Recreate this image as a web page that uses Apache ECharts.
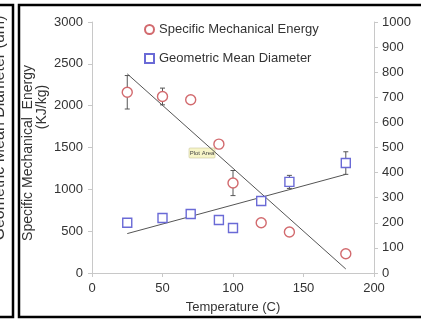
<!DOCTYPE html>
<html>
<head>
<meta charset="utf-8">
<script src="https://cdn.jsdelivr.net/npm/echarts@6/dist/echarts.min.js"></script>
<style>
  html, body { margin: 0; padding: 0; background: #fff; }
  #chart { width: 421px; height: 321px; }
</style>
</head>
<body>
<div id="chart"></div>
<script>
// Extrusion temperature (C) for each run
const temps = [25, 50, 70, 90, 100, 120, 140, 180];
// Specific mechanical energy (KJ/kg) and its error
const smeValues = [2160, 2110, 2070, 1540, 1075, 600, 490, 230];
const smeErrors = [200, 100, 0, 0, 150, 0, 0, 0];
// Geometric mean diameter (um) and its error
const gmdValues = [200, 219, 235, 211, 179, 287, 363, 438];
const gmdErrors = [0, 0, 0, 0, 0, 0, 26, 45];
// Linear trend lines, end points [temperature, value]
const smeTrend = [[25, 2380], [180, 48]];
const gmdTrend = [[25, 157], [180, 393]];
// Axis ranges [min, max, step]
const xRange = [0, 200, 50];
const smeRange = [0, 3000, 500];
const gmdRange = [0, 1000, 100];

const seriesNames = ['Specific Mechanical Energy', 'Geometric Mean Diameter'];
const FONT = '"Liberation Sans", Arial, Helvetica, sans-serif';
const RED = '#d26a6e';
const BLUE = '#6a6ad6';
const AXIS = '#c8c8c8';
const TEXT = '#333333';

const chart = echarts.init(document.getElementById('chart'), null, { renderer: 'canvas' });

function errorBars(values, errors) {
  return temps.map((t, i) => [t, values[i], errors[i]]).filter(d => d[2] > 0);
}

function renderError(params, api) {
  const x = api.value(0), y = api.value(1), e = api.value(2);
  const top = api.coord([x, y + e]);
  const bot = api.coord([x, y - e]);
  const w = 2.5;
  const style = { stroke: '#555', lineWidth: 1 };
  return {
    type: 'group',
    children: [
      { type: 'line', shape: { x1: top[0], y1: top[1], x2: bot[0], y2: bot[1] }, style },
      { type: 'line', shape: { x1: top[0] - w, y1: top[1], x2: top[0] + w, y2: top[1] }, style },
      { type: 'line', shape: { x1: bot[0] - w, y1: bot[1], x2: bot[0] + w, y2: bot[1] }, style }
    ]
  };
}

function valueAxis(range, extra) {
  return Object.assign({
    type: 'value',
    min: range[0], max: range[1], interval: range[2],
    axisLine: { show: true, lineStyle: { color: AXIS, width: 1 } },
    axisTick: { show: true, length: 4, lineStyle: { color: AXIS } },
    splitLine: { show: false }
  }, extra);
}

function tickLabel(margin) {
  return { color: TEXT, fontSize: 13, fontFamily: FONT, margin: margin, formatter: v => String(v) };
}

const option = {
  backgroundColor: '#ffffff',
  animation: false,
  grid: { left: 92, top: 22, width: 282, height: 251 },
  legend: {
    orient: 'vertical',
    left: 139, top: 18,
    itemWidth: 9, itemHeight: 9,
    itemGap: 16,
    data: [
      { name: seriesNames[0], icon: 'circle' },
      { name: seriesNames[1], icon: 'rect' }
    ],
    textStyle: { color: TEXT, fontSize: 13, fontFamily: FONT }
  },
  xAxis: valueAxis(xRange, {
    name: 'Temperature (C)',
    nameLocation: 'middle',
    nameGap: 28,
    nameTextStyle: { color: TEXT, fontSize: 13, fontFamily: FONT },
    axisLabel: tickLabel(9)
  }),
  yAxis: [
    valueAxis(smeRange, { position: 'left', axisLabel: tickLabel(9) }),
    valueAxis(gmdRange, { position: 'right', axisLabel: tickLabel(8) })
  ],
  series: [
    {
      type: 'line', data: smeTrend, yAxisIndex: 0, showSymbol: false, silent: true,
      lineStyle: { color: '#555', width: 1 }, z: 1
    },
    {
      type: 'line', data: gmdTrend, yAxisIndex: 1, showSymbol: false, silent: true,
      lineStyle: { color: '#555', width: 1 }, z: 1
    },
    {
      type: 'custom', yAxisIndex: 0, renderItem: renderError,
      data: errorBars(smeValues, smeErrors), z: 2
    },
    {
      type: 'custom', yAxisIndex: 1, renderItem: renderError,
      data: errorBars(gmdValues, gmdErrors), z: 2
    },
    {
      name: seriesNames[0], type: 'scatter', yAxisIndex: 0,
      symbol: 'circle', symbolSize: 10,
      data: temps.map((t, i) => [t, smeValues[i]]),
      itemStyle: { color: '#ffffff', borderColor: RED, borderWidth: 1.4, opacity: 1 },
      z: 3
    },
    {
      name: seriesNames[1], type: 'scatter', yAxisIndex: 1,
      symbol: 'rect', symbolSize: 9,
      data: temps.map((t, i) => [t, gmdValues[i]]),
      itemStyle: { color: '#ffffff', borderColor: BLUE, borderWidth: 1.4, opacity: 1 },
      z: 3
    }
  ],
  graphic: [
    // Panel frames
    { type: 'rect', shape: { x: -10, y: 5, width: 23, height: 312 },
      style: { fill: 'none', stroke: '#000', lineWidth: 2.5 }, z: 10 },
    { type: 'rect', shape: { x: 19, y: 5, width: 420, height: 312 },
      style: { fill: 'none', stroke: '#000', lineWidth: 2.5 }, z: 10 },
    // Neighbouring panel's axis title
    { type: 'text', x: 0, y: 128, rotation: Math.PI / 2,
      style: { text: 'Geometric Mean Diameter (um)', fill: TEXT, font: '16px ' + FONT,
        align: 'center', verticalAlign: 'middle' } },
    // Left axis title, two lines
    { type: 'text', x: 28, y: 153, rotation: Math.PI / 2,
      style: { text: 'Specific Mechanical  Energy', fill: TEXT, font: '14px ' + FONT,
        align: 'center', verticalAlign: 'middle' } },
    { type: 'text', x: 42, y: 107, rotation: Math.PI / 2,
      style: { text: '(KJ/kg)', fill: TEXT, font: '14px ' + FONT,
        align: 'center', verticalAlign: 'middle' } },
    // Hover label over the plot area
    { type: 'group', x: 189, y: 148, z: 20, children: [
      { type: 'rect', shape: { x: 0, y: 0, width: 26, height: 10, r: 1 },
        style: { fill: '#f7f5c8', stroke: '#c9c79a', lineWidth: 0.6 } },
      { type: 'text', x: 13, y: 5,
        style: { text: 'Plot Area', fill: '#444', font: '6px ' + FONT, align: 'center', verticalAlign: 'middle' } }
    ] }
  ]
};

chart.setOption(option);
</script>
</body>
</html>
